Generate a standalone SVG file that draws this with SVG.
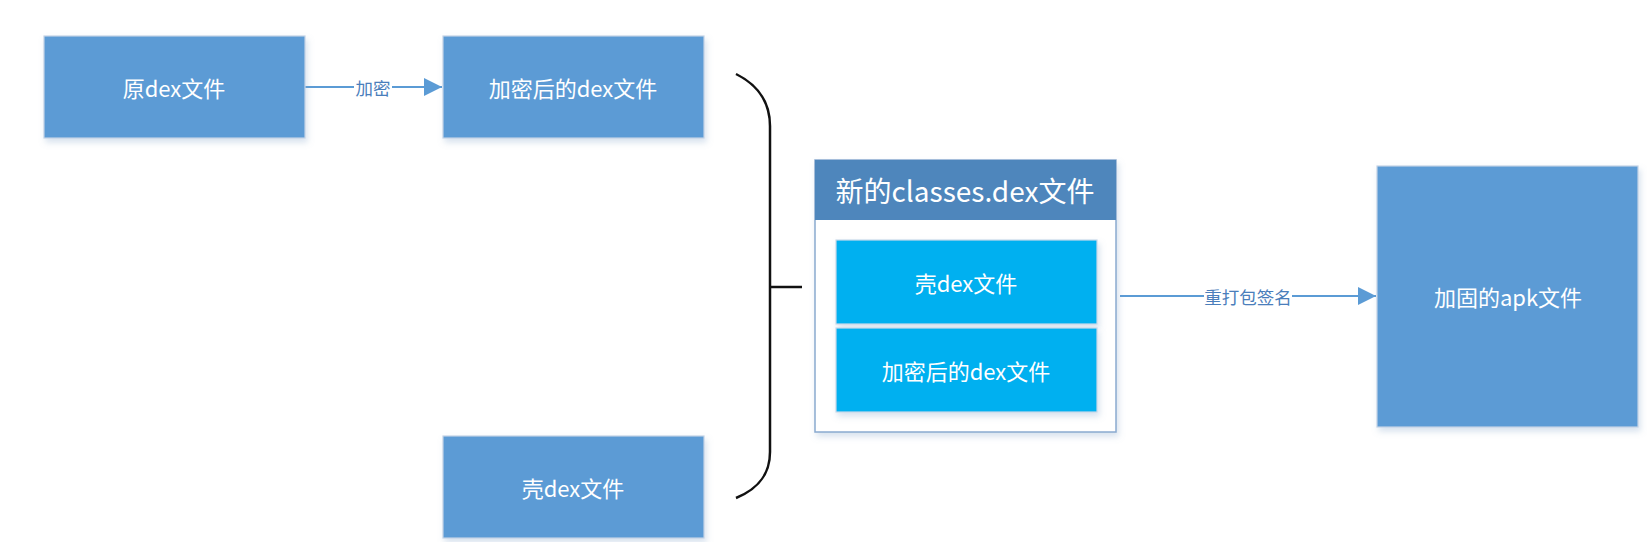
<svg xmlns="http://www.w3.org/2000/svg" width="1647" height="542" viewBox="0 0 1647 542">
<style>
.box{fill:#5B9BD5;stroke:#C3D3E6;stroke-width:1.2}
.inner{fill:#00B0F0;stroke:#C9D9EA;stroke-width:1.2}
.t{font-family:"Noto Sans CJK SC","Noto Sans",sans-serif;fill:#FFFFFF;text-anchor:middle;dominant-baseline:central}
.lbl{font-family:"Noto Sans CJK SC","Noto Sans",sans-serif;fill:#4A7EBB;text-anchor:middle;dominant-baseline:central;font-size:17.5px}
.conn{stroke:#5B9BD5;stroke-width:2;fill:none}
</style>
<defs>
<filter id="sh" x="-10%" y="-10%" width="125%" height="130%">
<feDropShadow dx="2" dy="4" stdDeviation="3" flood-color="#7FA0C8" flood-opacity="0.3"/>
</filter>
<marker id="ah" markerWidth="18" markerHeight="18" viewBox="0 0 18 18" refX="18" refY="9" orient="auto" markerUnits="userSpaceOnUse">
<path d="M0,0 L18,9 L0,18 Z" fill="#5B9BD5"/>
</marker>
</defs>
<rect width="1647" height="542" fill="#FFFFFF"/>
<g id="connectors">
<line class="conn" x1="305" y1="87" x2="442" y2="87" marker-end="url(#ah)"/>
<rect x="354" y="76" width="38" height="22" fill="#FFFFFF"/>
<text class="lbl" x="373" y="87">加密</text>
<line class="conn" x1="1120" y1="296" x2="1376" y2="296" marker-end="url(#ah)"/>
<rect x="1204" y="285" width="88" height="22" fill="#FFFFFF"/>
<text class="lbl" x="1248" y="296">重打包签名</text>
<path d="M736,74 C760,86 770,105 770,126 L770,452 C770,473 760,488 736,498" fill="none" stroke="#111111" stroke-width="2.5"/>
<line x1="770" y1="287" x2="802" y2="287" stroke="#111111" stroke-width="2.5"/>
</g>
<g id="n1">
<rect class="box" x="44" y="36" width="261" height="102" filter="url(#sh)"/>
<text class="t" x="174" y="87" font-size="22">原dex文件</text>
</g>
<g id="n2">
<rect class="box" x="443" y="36" width="261" height="102" filter="url(#sh)"/>
<text class="t" x="573" y="87" font-size="22">加密后的dex文件</text>
</g>
<g id="n3">
<rect class="box" x="443" y="436" width="261" height="102" filter="url(#sh)"/>
<text class="t" x="573" y="487" font-size="22">壳dex文件</text>
</g>
<g id="container">
<rect x="815" y="160" width="301" height="272" fill="#FFFFFF" stroke="#8AAAD0" stroke-width="1.5" filter="url(#sh)"/>
<rect x="815" y="160" width="301" height="60" fill="#4E86BC"/>
<text class="t" x="965" y="190" font-size="28">新的classes.dex文件</text>
</g>
<g id="n4">
<rect class="inner" x="836" y="240" width="261" height="84" filter="url(#sh)"/>
<text class="t" x="966" y="282" font-size="22">壳dex文件</text>
</g>
<g id="n5">
<rect class="inner" x="836" y="328" width="261" height="84" filter="url(#sh)"/>
<text class="t" x="966" y="370" font-size="22">加密后的dex文件</text>
</g>
<g id="n6">
<rect class="box" x="1377" y="166" width="261" height="261" filter="url(#sh)"/>
<text class="t" x="1508" y="296" font-size="22">加固的apk文件</text>
</g>
</svg>
